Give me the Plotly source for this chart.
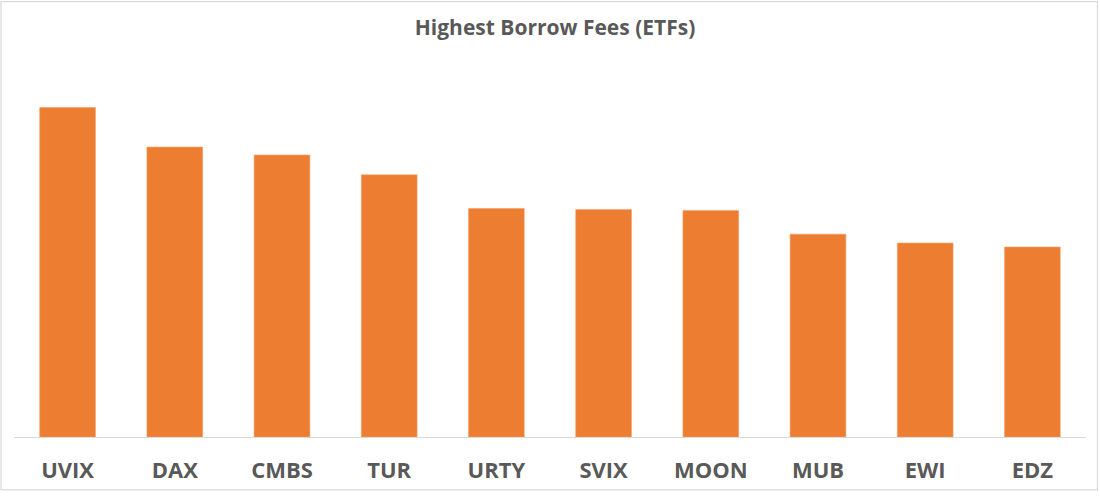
import plotly.graph_objects as go

categories = ["UVIX", "DAX", "CMBS", "TUR", "URTY", "SVIX", "MOON", "MUB", "EWI", "EDZ"]
fees = [333, 293, 285, 265, 231, 230, 229, 205, 196, 192]

W, H = 1100, 496
L, R, T, B = 14, 14, 62, 55
ph = H - T - B
pw = W - L - R

fig = go.Figure(
    go.Bar(
        x=categories,
        y=fees,
        marker=dict(color="#ED7D31", line=dict(color="#F3A06A", width=0.6)),
        hoverinfo="x+y",
    )
)

fig.update_layout(
    width=W,
    height=H,
    margin=dict(l=L, r=R, t=T, b=B),
    paper_bgcolor="white",
    plot_bgcolor="white",
    bargap=0.48,
    showlegend=False,
    title=dict(
        text="<b>Highest Borrow Fees (ETFs)</b>",
        x=555 / W,
        xref="container",
        xanchor="center",
        y=1 - 28 / H,
        yref="container",
        yanchor="middle",
        font=dict(family="Open Sans", size=21, color="#595959"),
    ),
    xaxis=dict(
        showline=True,
        linecolor="#D9D9D9",
        linewidth=1,
        showgrid=False,
        zeroline=False,
        ticks="",
        tickfont=dict(family="Open Sans", size=22, color="#595959", weight="bold"),
        ticklabelstandoff=14,
    ),
    yaxis=dict(
        range=[0, ph],
        visible=False,
        showgrid=False,
        zeroline=False,
    ),
    shapes=[
        dict(
            type="rect",
            xref="paper",
            yref="paper",
            x0=(1 - L) / pw,
            x1=(1097.5 - L) / pw,
            y0=((H - B) - 494.5) / ph,
            y1=((H - B) - 1) / ph,
            line=dict(color="#D9D9D9", width=1.2),
            fillcolor="rgba(0,0,0,0)",
            layer="below",
        )
    ],
)

fig.write_html(
    "out.html",
    config={"displayModeBar": False},
    post_script="document.body.style.margin='0';document.body.style.overflow='hidden';",
)
